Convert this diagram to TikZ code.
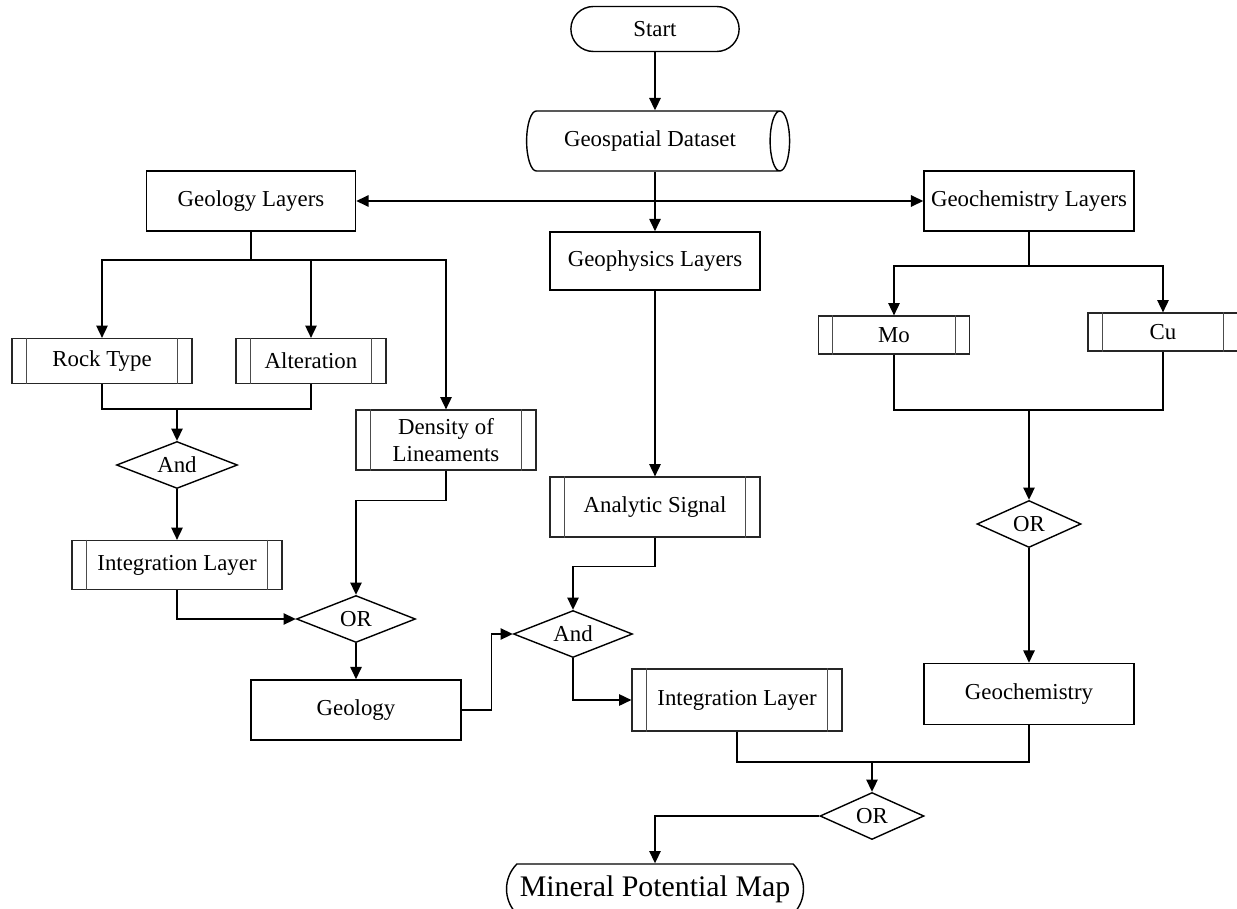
\documentclass[tikz,border=0pt]{standalone}
\usepackage{fontspec}
\setmainfont{Liberation Serif}
\usetikzlibrary{arrows.meta,shapes.geometric,shapes.misc,positioning}
\tikzset{
    %Define standard arrow tip
    >={Triangle[length=7pt,width=6.5pt]},
    %Define style for start and end
    terminal/.style={
           rounded rectangle,
           draw=black, line width=0.8pt,
           minimum width=3.6cm,
           minimum height=0.9cm,
           font=\fontsize{13}{15}\selectfont,
           text centered},
    %Define style for the dataset
    dataset/.style={
           cylinder,
           shape border rotate=0,
           aspect=0.6,
           draw=black, line width=0.8pt,
           minimum width=1.2cm,
           minimum height=5.26cm,
           font=\fontsize{13}{15}\selectfont,
           text centered},
    %Define style for boxes
    process/.style={
           rectangle,
           draw=black, line width=0.9pt,
           minimum width=4.2cm,
           minimum height=1.2cm,
           font=\fontsize{13}{15}\selectfont,
           text centered},
    subproc/.style={
           rectangle,
           draw=black!85, line width=0.7pt,
           minimum width=4.2cm,
           minimum height=0.9cm,
           font=\fontsize{13}{15.5}\selectfont,
           align=center,
           append after command={
               ([xshift=0.3cm]\tikzlastnode.north west) edge[-,draw=black!70,line width=0.6pt] ([xshift=0.3cm]\tikzlastnode.south west)
               ([xshift=-0.3cm]\tikzlastnode.north east) edge[-,draw=black!70,line width=0.6pt] ([xshift=-0.3cm]\tikzlastnode.south east)
           }},
    decision/.style={
           diamond,
           aspect=2.5,
           inner sep=0pt,
           draw=black, line width=0.8pt,
           minimum width=2.38cm,
           minimum height=0.94cm,
           font=\fontsize{13}{15}\selectfont,
           text centered},
    % Define arrow style
    pil/.style={
           ->,
           line width=0.8pt}
}

\begin{document}
\begin{tikzpicture}[pil,x=0.02cm,y=-0.02cm]
 \useasboundingbox (0,0) rectangle (1237,909);

 %nodes
\node[terminal](start) at (655,29){Start};
\node[dataset](geo) at (650,141){Geospatial Dataset};
\node[process, minimum width=4.18cm](geolL) at (251,201){Geology Layers};
\node[process](chemL) at (1029,201){Geochemistry Layers};
\node[process, minimum height=1.16cm](physL) at (655,261){Geophysics Layers};
\node[subproc, minimum width=3.6cm](rock) at (102,361){Rock Type};
\node[subproc, minimum width=3.0cm](alter) at (311,361){Alteration};
\node[subproc, minimum width=3.6cm, minimum height=1.2cm](dens) at (446,440){Density of\\Lineaments};
\node[decision, minimum width=2.42cm](and1) at (177,465){And};
\node[subproc, minimum height=0.98cm](intA) at (177,565){Integration Layer};
\node[decision](or1) at (356,619){OR};
\node[process](geol) at (356,710){Geology};
\node[subproc, minimum height=1.2cm](signal) at (655,507){Analytic Signal};
\node[decision](and2) at (573,634){And};
\node[subproc, minimum height=1.24cm](intB) at (737,700){Integration Layer};
\node[subproc, minimum width=3.02cm, minimum height=0.76cm](mo) at (894,335){Mo};
\node[subproc, minimum width=3.0cm, minimum height=0.76cm](cu) at (1163,332){Cu};
\node[decision, minimum width=2.08cm](or2) at (1029,524){OR};
\node[process, minimum height=1.22cm](chem) at (1029,694){Geochemistry};
\node[decision, minimum width=2.08cm](or3) at (872,816){OR};
\node[terminal, minimum width=5.94cm, minimum height=1.0cm, inner xsep=0pt,
      rounded rectangle arc length=90,
      font=\fontsize{17}{19}\selectfont](map) at (655,889){Mineral Potential Map};

 %junctions
\coordinate (jGeol) at (251,260);
\coordinate (jRock) at (177,409);
\coordinate (jChem) at (1029,266);
\coordinate (jMo) at (1029,410);
\coordinate (jInt) at (872,762);

 %connectors
\draw (start.south) -- (start.south |- geo.north);
\draw (physL.north |- geo.south) -- (physL.north);
\draw[<->] (geolL.east) -- (chemL.west);
\draw[-] (geolL.south) -- (jGeol);
\draw (jGeol) -| (rock.north);
\draw (jGeol) -| (alter.north);
\draw (jGeol) -| (dens.north);
\draw[-] (rock.south) |- (jRock) -| (alter.south);
\draw (jRock) -- (and1.north);
\draw (and1.south) -- (intA.north);
\draw (intA.south) |- (or1.west);
\draw (dens.south) -- ++(0,30) -| (or1.north);
\draw (or1.south) -- (geol.north);
\draw (geol.east) -- ++(30,0) |- (and2.west);
\draw (physL.south) -- (signal.north);
\draw (signal.south) -- ++(0,29) -| (and2.north);
\draw (and2.south) |- (intB.west);
\draw[-] (chemL.south) -- (jChem);
\draw (jChem) -| (mo.north);
\draw (jChem) -| (cu.north);
\draw[-] (mo.south) |- (jMo) -| (cu.south);
\draw (jMo) -- (or2.north);
\draw (or2.south) -- (chem.north);
\draw[-] (intB.south) |- (jInt) -| (chem.south);
\draw (jInt) -- (or3.north);
\draw (or3.west) -| (map.north);

\end{tikzpicture}
\end{document}
